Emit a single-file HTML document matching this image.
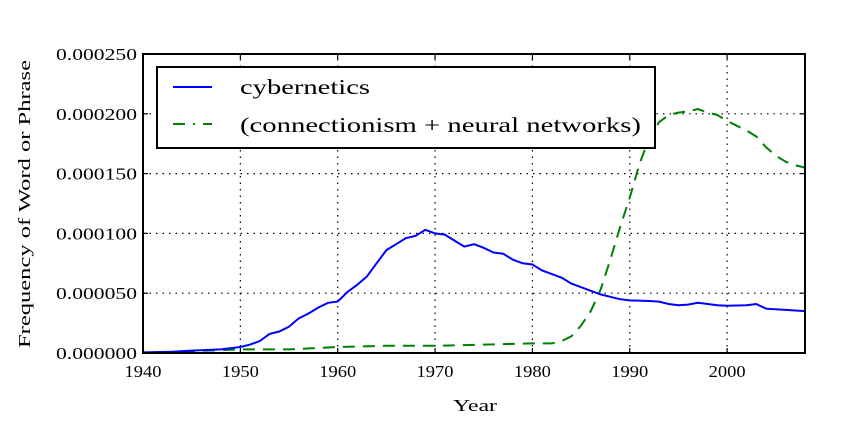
<!DOCTYPE html>
<html><head><meta charset="utf-8"><style>
body{margin:0;background:#fff;}
svg{display:block;font-family:"Liberation Serif",serif;}
</style></head><body>
<svg id="chart" width="866" height="438">
<g id="grid"></g><g id="series"></g><g id="axes"></g><g id="legend"></g>
</svg>
<script>
const cyberYears=[1940,1943,1945,1948,1950,1951,1952,1953,1954,1955,1956,1957,1958,1959,1960,1961,1962,1963,1964,1965,1966,1967,1968,1969,1970,1971,1972,1973,1974,1975,1976,1977,1978,1979,1980,1981,1982,1983,1984,1985,1986,1987,1988,1989,1990,1992,1993,1994,1995,1996,1997,1999,2000,2002,2003,2004,2006,2008];
const cyberValues=[0.5,1,2,3,5,7,10,16,18,22,29,33,38,42,43,51,57,64,75,86,91,96,98,103,100,99,94,89,91,88,84,83,78,75,74,69,66,63,58,55,52,49,47,45,44,43.5,43,41,40,40.5,42,40,39.5,40,41,37,36,35];
const nnYears=[1940,1945,1950,1955,1960,1965,1970,1975,1980,1982,1983,1984,1985,1986,1987,1988,1989,1990,1991,1992,1993,1994,1995,1996,1997,1998,1999,2000,2001,2002,2003,2004,2005,2006,2007,2008];
const nnValues=[0,1.5,3,3,5,6,6,7,8,8,10,14,23,35,53,78,105,130,158,180,193,199,201,202,204,201,199,194,190,186,181,172,165,160,157,155];
const xTicks=[1940,1950,1960,1970,1980,1990,2000];
const yTicks=[0,50,100,150,200,250];
const yTickLabels=["0.000000","0.000050","0.000100","0.000150","0.000200","0.000250"];
const X0=143,X1=805,Y0=353,Y1=54,xmin=1940,xmax=2008,ymax=250;
const sx=v=>X0+(v-xmin)/(xmax-xmin)*(X1-X0);
const sy=v=>Y0-v/ymax*(Y0-Y1);
const NS="http://www.w3.org/2000/svg";
function mk(tag,attrs,parent,text){const e=document.createElementNS(NS,tag);for(const k in attrs)e.setAttribute(k,attrs[k]);if(text!==undefined)e.textContent=text;parent.appendChild(e);return e;}
const grid=document.getElementById('grid'),axes=document.getElementById('axes'),ser=document.getElementById('series'),leg=document.getElementById('legend');
xTicks.forEach(t=>{
 const g=mk('line',{x1:sx(t),x2:sx(t),y1:Y0,y2:Y1,stroke:'#000','stroke-width':1.2,'stroke-dasharray':'1.5,5'},grid);
 
 
 mk('line',{x1:sx(t),x2:sx(t),y1:Y0,y2:Y0-5,stroke:'#000','stroke-width':1.2},axes);
 mk('line',{x1:sx(t),x2:sx(t),y1:Y1,y2:Y1+5,stroke:'#000','stroke-width':1.2},axes);
 const l=mk('text',{x:sx(t),y:Y0+24,'text-anchor':'middle','font-size':17,textLength:37,lengthAdjust:'spacingAndGlyphs'},axes,String(t));
 
 
});
yTicks.forEach((t,i)=>{
 const g=mk('line',{x1:X0,x2:X1,y1:sy(t),y2:sy(t),stroke:'#000','stroke-width':1.2,'stroke-dasharray':'1.5,5'},grid);
 
 
 mk('line',{x1:X0,x2:X0+5,y1:sy(t),y2:sy(t),stroke:'#000','stroke-width':1.2},axes);
 mk('line',{x1:X1,x2:X1-5,y1:sy(t),y2:sy(t),stroke:'#000','stroke-width':1.2},axes);
 const l=mk('text',{x:56,y:sy(t)+6,'font-size':17,textLength:81,lengthAdjust:'spacingAndGlyphs'},axes,yTickLabels[i]);
 
 
});
const frame=mk('rect',{x:X0,y:Y1,width:X1-X0,height:Y0-Y1,fill:'none',stroke:'#000','stroke-width':2},axes);


const xt=mk('text',{x:453,y:411,'font-size':17,textLength:44,lengthAdjust:'spacingAndGlyphs'},axes,'Year');


const yt=mk('text',{x:-348,y:0,transform:'translate(30,0) rotate(-90)','font-size':17,textLength:288,lengthAdjust:'spacingAndGlyphs'},axes,'Frequency of Word or Phrase');


const pts=(xs,ys)=>xs.map((x,i)=>sx(x).toFixed(1)+','+sy(ys[i]).toFixed(1)).join(' ');
const nn=mk('polyline',{points:pts(nnYears,nnValues),fill:'none',stroke:'#008000','stroke-width':2,'stroke-dasharray':'12,8'},ser);


const cy=mk('polyline',{points:pts(cyberYears,cyberValues),fill:'none',stroke:'#0000ff','stroke-width':2},ser);


const box=mk('rect',{x:157,y:67,width:498,height:81,fill:'#fff',stroke:'#000','stroke-width':2},leg);


mk('line',{x1:173,x2:212,y1:87,y2:87,stroke:'#0000ff','stroke-width':2},leg);
const l1=mk('text',{x:240,y:94,'font-size':21,textLength:130,lengthAdjust:'spacingAndGlyphs'},leg,'cybernetics');


mk('line',{x1:173,x2:212,y1:124,y2:124,stroke:'#008000','stroke-width':2,'stroke-dasharray':'12,8,2,8'},leg);
const l2=mk('text',{x:240,y:132,'font-size':21,textLength:401,lengthAdjust:'spacingAndGlyphs'},leg,'(connectionism + neural networks)');


</script>
</body></html>
